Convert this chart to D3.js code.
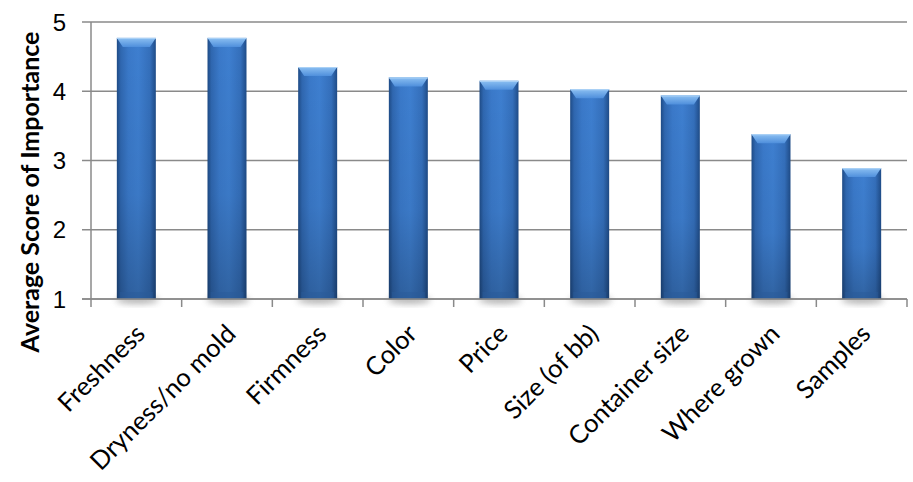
<!DOCTYPE html>
<html><head><meta charset="utf-8">
<script src="https://cdn.jsdelivr.net/npm/d3@7"></script>
<style>body{margin:0;background:#fff}svg{display:block}</style>
</head><body>
<svg id="c" width="913" height="482"></svg>
<script>
const categories = ["Freshness","Dryness/no mold","Firmness","Color","Price","Size (of bb)","Container size","Where grown","Samples"];
const values = [4.77, 4.77, 4.35, 4.20, 4.15, 4.03, 3.94, 3.38, 2.89];
const yTicks = [1,2,3,4,5];
const yTitle = "Average Score of Importance";

const svg = d3.select("#c");
const m = {l:91, r:6, t:22, b:183};
const W = 913, H = 482;
const x = d3.scaleBand().domain(categories).range([m.l, W - m.r]).paddingInner(0.57).paddingOuter(0.285);
const xb = d3.scaleBand().domain(categories).range([m.l, W - m.r]);
const y = d3.scaleLinear().domain([1,5]).range([H - m.b, m.t]);

const defs = svg.append("defs");
const gh = defs.append("linearGradient").attr("id","gh").attr("x1","0").attr("x2","1").attr("y1","0").attr("y2","0");
[[0,"#1e4b86"],[0.1,"#2f67b0"],[0.3,"#3a79c9"],[0.55,"#3e7fd0"],[0.85,"#346fbb"],[1,"#1f4c88"]].forEach(s=>gh.append("stop").attr("offset",s[0]).attr("stop-color",s[1]));
const gv = defs.append("linearGradient").attr("id","gv").attr("x1","0").attr("x2","0").attr("y1","0").attr("y2","1");
[[0,"#000",0],[0.6,"#000",0.05],[1,"#000",0.22]].forEach(s=>gv.append("stop").attr("offset",s[0]).attr("stop-color",s[1]).attr("stop-opacity",s[2]));
const gc = defs.append("linearGradient").attr("id","gc").attr("x1","0").attr("x2","0").attr("y1","0").attr("y2","1");
[[0,"#8cc0f2"],[1,"#4f8fdc"]].forEach(s=>gc.append("stop").attr("offset",s[0]).attr("stop-color",s[1]));
const sh = defs.append("filter").attr("id","sh").attr("x","-50%").attr("y","-50%").attr("width","200%").attr("height","200%");
sh.append("feGaussianBlur").attr("stdDeviation",3);

// gridlines
svg.append("g").selectAll("line").data(yTicks).join("line")
  .attr("x1", m.l - 9).attr("x2", W - m.r)
  .attr("y1", d=>y(d)).attr("y2", d=>y(d))
  .attr("stroke","#8a8a8a").attr("stroke-width",1.5);

// shadows
svg.append("g").selectAll("ellipse").data(categories).join("ellipse")
  .attr("cx", d=>x(d)+x.bandwidth()/2 + 1).attr("cy", y(1)+1)
  .attr("rx", x.bandwidth()/2 + 2).attr("ry", 4)
  .attr("fill","#777").attr("opacity",0.55).attr("filter","url(#sh)");

// bars
const bars = svg.append("g").selectAll("g").data(categories).join("g");
bars.append("rect")
  .attr("x", d=>x(d)).attr("width", x.bandwidth())
  .attr("y", (d,i)=>y(values[i])).attr("height", (d,i)=>y(1)-y(values[i]))
  .attr("fill","url(#gh)");
bars.append("rect")
  .attr("x", d=>x(d)).attr("width", x.bandwidth())
  .attr("y", (d,i)=>y(values[i])).attr("height", (d,i)=>y(1)-y(values[i]))
  .attr("fill","url(#gv)");
// bottom bevel
bars.append("rect")
  .attr("x", d=>x(d)+3).attr("width", x.bandwidth()-6)
  .attr("y", y(1)-7).attr("height", 7)
  .attr("fill","#2a5a9a").attr("opacity",0.45);
// top cap
bars.append("path")
  .attr("d", (d,i)=>{
    const x0 = x(d), x1 = x(d)+x.bandwidth(), t = y(values[i]);
    return `M${x0},${t}L${x1},${t}L${x1-6},${t+9}L${x0+6},${t+9}Z`;
  })
  .attr("fill","url(#gc)");
bars.append("line")
  .attr("x1", d=>x(d)).attr("x2", d=>x(d)+x.bandwidth())
  .attr("y1", (d,i)=>y(values[i])+0.5).attr("y2", (d,i)=>y(values[i])+0.5)
  .attr("stroke","#a9d0f5").attr("stroke-width",1.2);

// axes
svg.append("line").attr("x1",m.l).attr("x2",m.l).attr("y1",m.t).attr("y2",y(1))
  .attr("stroke","#8a8a8a").attr("stroke-width",1.5);
svg.append("line").attr("x1",m.l-9).attr("x2",W-m.r).attr("y1",y(1)).attr("y2",y(1))
  .attr("stroke","#8a8a8a").attr("stroke-width",1.5);
const bounds = categories.map(d=>xb(d)).concat([xb(categories[categories.length-1])+xb.bandwidth()]);
svg.append("g").selectAll("line").data(bounds).join("line")
  .attr("x1",d=>d).attr("x2",d=>d).attr("y1",y(1)).attr("y2",y(1)+8)
  .attr("stroke","#8a8a8a").attr("stroke-width",1.5);

// y tick labels
svg.append("g").selectAll("text").data(yTicks).join("text")
  .attr("x", 66).attr("y", d=>y(d)).attr("dy","0.36em")
  .attr("text-anchor","end")
  .attr("font-family","Liberation Sans, Arial, sans-serif").attr("font-size",24)
  .attr("fill","#000").text(d=>d);

// y title
svg.append("text")
  .attr("transform", `translate(39,192) rotate(-90)`)
  .attr("text-anchor","middle")
  .attr("font-family","Lato, sans-serif").attr("font-weight","bold").attr("font-size",25)
  .attr("fill","#000").text(yTitle);

// category labels
svg.append("g").selectAll("text").data(categories).join("text")
  .attr("transform", d=>`translate(${xb(d)+xb.bandwidth()/2+4},${y(1)+30}) rotate(-45)`)
  .attr("text-anchor","end").attr("dy","0.35em")
  .attr("font-family","Lato, sans-serif").attr("font-size",25.5)
  .attr("fill","#000").text(d=>d);
</script>
</body></html>
